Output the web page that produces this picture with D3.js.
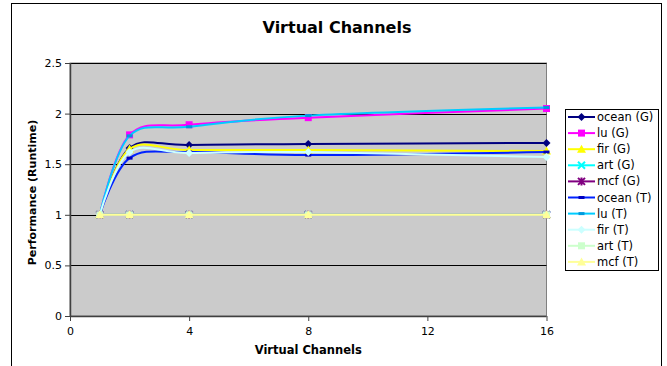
<!DOCTYPE html>
<html>
<head>
<meta charset="utf-8">
<script src="https://cdn.jsdelivr.net/npm/d3@7"></script>
<style>
  html, body { margin: 0; padding: 0; background: #ffffff; }
  svg { display: block; font-family: "DejaVu Sans", Verdana, sans-serif; }
</style>
</head>
<body>
<svg id="chart" width="667" height="366"></svg>
<script>
// Virtual channel counts on the x axis
const channels = [1, 2, 4, 8, 16];
const xTicks = [0, 4, 8, 12, 16];
const yTicks = [0, 0.5, 1, 1.5, 2, 2.5];

// Normalised performance per benchmark (G and T configurations)
const oceanG = [1, 1.66, 1.69, 1.70, 1.71];
const luG    = [1, 1.79, 1.89, 1.96, 2.05];
const firG   = [1, 1.65, 1.64, 1.64, 1.63];
const artG   = [1, 1, 1, 1, 1];
const mcfG   = [1, 1, 1, 1, 1];
const oceanT = [1, 1.56, 1.62, 1.59, 1.62];
const luT    = [1, 1.78, 1.87, 1.98, 2.06];
const firT   = [1, 1.62, 1.61, 1.62, 1.57];
const artT   = [1, 1, 1, 1, 1];
const mcfT   = [1, 1, 1, 1, 1];

const seriesNames = ["ocean (G)", "lu (G)", "fir (G)", "art (G)", "mcf (G)",
                     "ocean (T)", "lu (T)", "fir (T)", "art (T)", "mcf (T)"];
const seriesValues = [oceanG, luG, firG, artG, mcfG, oceanT, luT, firT, artT, mcfT];

// Visual style per series: colour and marker shape
const styles = [
  { color: "#000080", marker: "diamond" },
  { color: "#ff00ff", marker: "square" },
  { color: "#ffff00", marker: "triangle" },
  { color: "#00ffff", marker: "cross" },
  { color: "#800080", marker: "star" },
  { color: "#0022ff", marker: "dash", markColor: "#0000c0" },
  { color: "#00ccff", marker: "dash", markColor: "#0099dd" },
  { color: "#ccffff", marker: "diamond" },
  { color: "#ccffcc", marker: "square" },
  { color: "#ffff99", marker: "triangle" }
];

const svg = d3.select("#chart");

// Outer chart frame
svg.append("rect")
  .attr("x", 11.5).attr("y", 3.5)
  .attr("width", 650).attr("height", 380)
  .attr("fill", "#ffffff").attr("stroke", "#000000").attr("stroke-width", 1);

const plot = { left: 70, right: 546.5, top: 63, bottom: 316 };

const x = d3.scaleLinear().domain([0, 16]).range([plot.left, plot.right]);
const y = d3.scaleLinear().domain([0, 2.5]).range([plot.bottom, plot.top]);

// Plot background
svg.append("rect")
  .attr("x", plot.left).attr("y", plot.top)
  .attr("width", plot.right - plot.left).attr("height", plot.bottom - plot.top)
  .attr("fill", "#cbcbcb").attr("stroke", "#808080").attr("stroke-width", 1);

// Horizontal gridlines
svg.append("g").selectAll("line")
  .data(yTicks.filter(d => d > 0))
  .join("line")
  .attr("x1", plot.left).attr("x2", plot.right)
  .attr("y1", d => Math.round(y(d)) + 0.5).attr("y2", d => Math.round(y(d)) + 0.5)
  .attr("stroke", "#000000").attr("stroke-width", 1);

// Axes
const yAxis = d3.axisLeft(y).tickValues(yTicks).tickSize(5).tickPadding(3)
  .tickFormat(d3.format("~g"));
const xAxis = d3.axisBottom(x).tickValues(xTicks).tickSize(5).tickPadding(6)
  .tickFormat(d3.format("d"));

const gy = svg.append("g").attr("transform", `translate(${plot.left},0)`).call(yAxis);
const gx = svg.append("g").attr("transform", `translate(0,${plot.bottom})`).call(xAxis);
[gy, gx].forEach(g => {
  g.select(".domain").attr("stroke", "#404040").attr("stroke-width", 1.5);
  g.selectAll(".tick line").attr("stroke", "#404040");
  g.selectAll(".tick text")
    .attr("font-family", "'DejaVu Sans', Verdana, sans-serif")
    .attr("font-size", 11).attr("fill", "#000000");
});
gx.select(".domain").attr("d", `M${plot.left},0.5H${plot.right}`);
gy.select(".domain").attr("d", `M0.5,${plot.top}V${plot.bottom}`);

// Titles
svg.append("text")
  .attr("x", 337).attr("y", 33)
  .attr("text-anchor", "middle")
  .attr("font-size", 16).attr("font-weight", "bold")
  .text("Virtual Channels");

svg.append("text")
  .attr("x", (plot.left + plot.right) / 2).attr("y", 354)
  .attr("text-anchor", "middle")
  .attr("font-size", 11.5).attr("font-weight", "bold")
  .text("Virtual Channels");

svg.append("text")
  .attr("transform", `translate(36,${(plot.top + plot.bottom) / 2 + 3}) rotate(-90)`)
  .attr("text-anchor", "middle")
  .attr("font-size", 11).attr("font-weight", "bold")
  .text("Performance (Runtime)");

// Marker drawing helper
function drawMarker(g, shape, cx, cy, color, markColor) {
  const mc = markColor || color;
  switch (shape) {
    case "diamond":
      g.append("path")
        .attr("d", `M${cx},${cy - 4}L${cx + 4},${cy}L${cx},${cy + 4}L${cx - 4},${cy}Z`)
        .attr("fill", mc);
      break;
    case "square":
      g.append("rect").attr("x", cx - 3.5).attr("y", cy - 3.5)
        .attr("width", 7).attr("height", 7).attr("fill", mc);
      break;
    case "triangle":
      g.append("path")
        .attr("d", `M${cx},${cy - 4.5}L${cx + 4.5},${cy + 3.5}L${cx - 4.5},${cy + 3.5}Z`)
        .attr("fill", mc);
      break;
    case "cross":
      g.append("path")
        .attr("d", `M${cx - 3.5},${cy - 3.5}L${cx + 3.5},${cy + 3.5}M${cx - 3.5},${cy + 3.5}L${cx + 3.5},${cy - 3.5}`)
        .attr("stroke", mc).attr("stroke-width", 2).attr("fill", "none");
      break;
    case "star":
      g.append("path")
        .attr("d", `M${cx - 3.5},${cy - 3.5}L${cx + 3.5},${cy + 3.5}M${cx - 3.5},${cy + 3.5}L${cx + 3.5},${cy - 3.5}M${cx},${cy - 4}L${cx},${cy + 4}`)
        .attr("stroke", mc).attr("stroke-width", 2).attr("fill", "none");
      break;
    case "dash":
      g.append("rect").attr("x", cx - 3).attr("y", cy - 1.5)
        .attr("width", 6).attr("height", 3).attr("fill", mc);
      break;
  }
}

// Smoothed series lines
const line = d3.line()
  .x(d => x(d[0]))
  .y(d => y(d[1]))
  .curve(d3.curveCardinal.tension(0));

const seriesLayer = svg.append("g");
seriesValues.forEach((vals, i) => {
  const st = styles[i];
  const pts = channels.map((c, j) => [c, vals[j]]);
  const g = seriesLayer.append("g");
  g.append("path")
    .attr("d", line(pts))
    .attr("fill", "none")
    .attr("stroke", st.color)
    .attr("stroke-width", 2);
  pts.forEach(p => drawMarker(g, st.marker, x(p[0]), y(p[1]), st.color, st.markColor));
});

// Legend
const legend = { left: 565.5, top: 109.5, width: 93, height: 161 };
svg.append("rect")
  .attr("x", legend.left).attr("y", legend.top)
  .attr("width", legend.width).attr("height", legend.height)
  .attr("fill", "#ffffff").attr("stroke", "#000000").attr("stroke-width", 1);

const legendItems = svg.append("g").selectAll("g")
  .data(seriesNames)
  .join("g")
  .attr("transform", (d, i) => `translate(0,${117 + i * 16.1})`);

legendItems.each(function (d, i) {
  const g = d3.select(this);
  const st = styles[i];
  g.append("line")
    .attr("x1", 568).attr("x2", 595).attr("y1", 0).attr("y2", 0)
    .attr("stroke", st.color).attr("stroke-width", 2);
  drawMarker(g, st.marker, 581.5, 0, st.color, st.markColor);
  g.append("text")
    .attr("x", 597).attr("y", 4)
    .attr("font-size", 11.5)
    .text(d);
});
</script>
</body>
</html>
